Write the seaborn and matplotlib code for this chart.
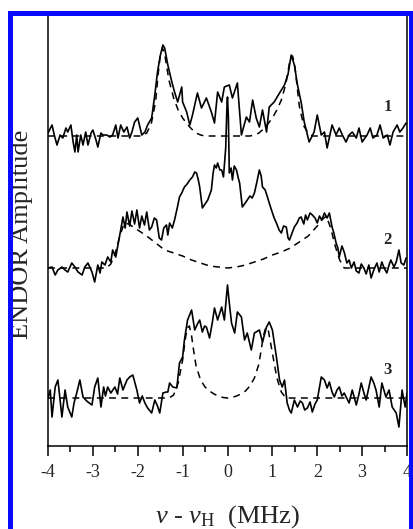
import numpy as np
import pandas as pd
import matplotlib
matplotlib.use("Agg")
import matplotlib.pyplot as plt
from matplotlib.patches import Rectangle
import seaborn as sns

# ---------------- data (x in MHz, amplitude in arbitrary units) ----------------
offset1, offset2, offset3 = 310, 178, 48

x1 = [-4.0,-3.91,-3.86,-3.8,-3.73,-3.67,-3.6,-3.56,-3.49,-3.44,-3.4,-3.36,-3.33,-3.27,-3.22,-3.16,-3.11,-3.04,-3.0,-2.93,
      -2.89,-2.82,-2.78,-2.69,-2.62,-2.56,-2.49,-2.44,-2.38,-2.31,-2.24,-2.18,-2.13,-2.07,-2.0,-1.91,-1.84,-1.78,-1.69,-1.62,
      -1.56,-1.5,-1.44,-1.4,-1.33,-1.24,-1.18,-1.11,-1.02,-1.0,-0.91,-0.84,-0.78,-0.67,-0.58,-0.47,-0.36,-0.29,-0.22,-0.13,
      -0.07,0.04,0.11,0.22,0.31,0.42,0.49,0.56,0.64,0.71,0.78,0.87,0.93,1.04,1.16,1.27,1.35,1.42,1.49,1.56,
      1.64,1.71,1.82,1.93,2.0,2.09,2.16,2.22,2.33,2.42,2.49,2.56,2.64,2.71,2.78,2.87,2.93,3.0,3.11,3.18,
      3.24,3.33,3.4,3.47,3.56,3.62,3.69,3.78,3.84,3.91,3.98]
y1 = [3,11,1,-9,1,-2,8,4,11,-6,-16,1,-16,1,-9,4,-9,3,6,-4,
      -11,3,1,1,-1,1,11,-2,11,4,9,-2,4,14,18,1,4,11,18,41,
      64,80,91,88,71,54,44,34,49,34,24,11,21,43,28,38,24,13,44,34,
      49,51,38,53,1,19,14,36,18,9,26,4,29,34,43,51,62,81,71,51,
      34,14,-6,4,21,1,4,-12,11,1,8,1,-6,1,4,-2,8,-6,1,8,
      -2,1,11,-2,1,-9,4,11,4,8,13]

x2 = [-4.0,-3.91,-3.84,-3.78,-3.69,-3.62,-3.56,-3.47,-3.4,-3.33,-3.24,-3.18,-3.11,-3.02,-2.96,-2.89,-2.84,-2.8,-2.73,-2.67,
      -2.6,-2.56,-2.49,-2.44,-2.38,-2.33,-2.28,-2.24,-2.18,-2.13,-2.07,-2.02,-1.96,-1.91,-1.85,-1.8,-1.74,-1.69,-1.63,-1.58,
      -1.52,-1.47,-1.42,-1.36,-1.33,-1.29,-1.23,-1.18,-1.12,-1.07,-1.02,-0.96,-0.9,-0.84,-0.78,-0.73,-0.69,-0.65,-0.62,-0.56,
      -0.5,-0.44,-0.4,-0.36,-0.32,-0.29,-0.25,-0.22,-0.17,-0.13,-0.09,-0.04,-0.01,0.0,0.02,0.04,0.08,0.11,0.15,0.2,
      0.24,0.27,0.33,0.38,0.44,0.5,0.55,0.6,0.65,0.71,0.75,0.78,0.84,0.89,0.93,0.98,1.04,1.09,1.15,1.2,
      1.25,1.31,1.35,1.38,1.44,1.49,1.55,1.6,1.64,1.7,1.74,1.78,1.84,1.89,1.95,2.0,2.05,2.1,2.16,2.22,
      2.27,2.33,2.37,2.42,2.46,2.49,2.55,2.6,2.66,2.71,2.76,2.82,2.87,2.93,2.98,3.04,3.09,3.15,3.2,3.26,
      3.33,3.38,3.44,3.49,3.55,3.6,3.64,3.71,3.76,3.82,3.87,3.93,3.98]
y2 = [0,1,-7,-2,1,-2,-4,5,1,-4,-7,1,5,-4,-14,3,-5,6,3,11,
      6,18,11,23,38,51,40,56,42,57,44,58,40,52,43,56,38,41,50,48,
      30,28,40,43,33,45,40,48,60,71,75,81,84,88,91,96,95,88,81,60,
      64,68,73,78,95,103,100,105,98,98,91,120,165,171,150,95,100,88,102,98,
      90,85,61,64,68,72,70,75,85,98,92,81,78,71,65,58,50,45,38,35,
      42,41,30,28,35,41,45,50,51,44,53,48,55,53,50,45,52,48,55,50,
      55,41,35,25,20,11,22,16,5,8,0,6,-3,-5,4,0,-6,3,-10,-2,
      5,-4,6,0,-5,3,8,1,6,18,5,3,10]

x3 = [-4.0,-3.95,-3.91,-3.84,-3.78,-3.74,-3.69,-3.62,-3.56,-3.47,-3.42,-3.36,-3.29,-3.22,-3.16,-3.11,-3.02,-2.96,-2.89,-2.82,
      -2.76,-2.72,-2.67,-2.6,-2.51,-2.45,-2.4,-2.33,-2.24,-2.18,-2.11,-2.02,-1.96,-1.9,-1.84,-1.78,-1.69,-1.62,-1.56,-1.51,
      -1.44,-1.36,-1.33,-1.29,-1.22,-1.13,-1.07,-1.0,-0.96,-0.89,-0.8,-0.73,-0.67,-0.62,-0.56,-0.51,-0.47,-0.4,-0.34,-0.29,
      -0.22,-0.13,-0.07,0.0,0.04,0.09,0.16,0.22,0.31,0.38,0.44,0.53,0.6,0.71,0.78,0.87,0.93,1.0,1.09,1.16,
      1.22,1.27,1.33,1.38,1.42,1.49,1.56,1.62,1.67,1.72,1.78,1.84,1.89,1.95,2.0,2.09,2.16,2.22,2.27,2.33,
      2.38,2.44,2.49,2.55,2.6,2.71,2.78,2.87,2.93,2.98,3.04,3.09,3.2,3.26,3.31,3.38,3.44,3.53,3.6,3.67,
      3.76,3.82,3.89,3.93,3.96,4.0]
y3 = [0,8,-19,11,18,2,-19,8,-9,-19,-5,5,18,1,-2,-4,-7,11,20,-9,
      11,2,11,5,11,4,20,8,18,21,23,8,-5,2,-5,-10,-15,-2,-8,-15,
      5,6,6,15,11,10,35,41,58,78,88,68,74,78,66,72,71,60,75,90,
      78,91,78,113,95,75,65,86,81,58,65,48,65,68,56,71,76,68,41,18,
      11,18,-5,-12,-15,-2,-9,-3,-5,-12,-10,-4,-14,-6,-2,21,18,10,16,6,
      1,8,11,2,5,-5,8,-7,4,15,5,-2,21,15,8,-9,15,1,8,-9,
      -15,-29,8,-2,-9,5]

# simulated (dashed) spectra
xs1 = [-4,-1.9,-1.8,-1.7,-1.6,-1.55,-1.5,-1.45,-1.4,-1.35,-1.3,-1.2,-1.1,-1.0,-0.9,-0.8,-0.7,-0.6,-0.5,0,
       0.5,0.6,0.7,0.8,0.9,1.0,1.1,1.2,1.3,1.35,1.4,1.45,1.5,1.55,1.6,1.7,1.8,1.9,4]
ys1 = [0,0,3,12,35,60,80,88,82,68,55,38,26,18,12,7,3,1,0,0,
       0,1,3,7,12,18,26,36,52,65,78,80,70,50,30,10,3,0,0]
xs2 = [-4,-2.7,-2.6,-2.5,-2.4,-2.3,-2.2,-2.0,-1.8,-1.6,-1.4,-1.2,-1.0,-0.8,-0.6,-0.4,-0.2,0,
       0.2,0.4,0.6,0.8,1.0,1.2,1.4,1.6,1.8,2.0,2.1,2.2,2.3,2.4,2.5,2.6,4]
ys2 = [0,0,4,15,32,45,44,38,32,25,18,15,12,8,5,2,1,0,
       1,3,6,9,13,16,20,26,32,42,48,52,40,22,8,0,0]
xs3 = [-4,-1.3,-1.2,-1.1,-1.0,-0.95,-0.9,-0.85,-0.8,-0.75,-0.7,-0.6,-0.5,-0.4,-0.3,-0.2,-0.1,0,
       0.1,0.2,0.3,0.4,0.5,0.6,0.7,0.75,0.8,0.85,0.9,1.0,1.1,1.2,1.3,4]
ys3 = [0,0,3,15,38,56,70,72,62,46,32,18,11,7,4,2,0.5,0,
       0.5,2,4,7,12,20,34,48,62,70,70,45,20,6,0,0]

trace_labels = ["1", "2", "3"]
xticks = [-4, -3, -2, -1, 0, 1, 2, 3, 4]

# ---------------- style ----------------
sns.set_style("ticks")
plt.rcParams["font.family"] = ["Liberation Serif", "DejaVu Serif"]
plt.rcParams["mathtext.fontset"] = "custom"
plt.rcParams["mathtext.rm"] = "Liberation Serif"
plt.rcParams["mathtext.it"] = "Liberation Serif:italic"
plt.rcParams["axes.unicode_minus"] = False

W, H = 413, 529
fig = plt.figure(figsize=(W / 100, H / 100), dpi=100)
ax = fig.add_axes([48 / W, 1 - 446 / H, (407 - 48) / W, (446 - 15) / H])

exp = [(x1, y1, offset1), (x2, y2, offset2), (x3, y3, offset3)]
sim = [(xs1, ys1, offset1), (xs2, ys2, offset2), (xs3, ys3, offset3)]

for xs, ys, off in sim:
    df = pd.DataFrame({"x": xs, "y": np.asarray(ys, float) + off})
    sns.lineplot(data=df, x="x", y="y", ax=ax, color="black", lw=1.1,
                 linestyle=(0, (4.5, 3.5)), sort=False, estimator=None)
for xs, ys, off in exp:
    df = pd.DataFrame({"x": xs, "y": np.asarray(ys, float) + off})
    sns.lineplot(data=df, x="x", y="y", ax=ax, color="black", lw=1.2,
                 sort=False, estimator=None)

label_y = [339, 206, 76]
for lab, ly in zip(trace_labels, label_y):
    ax.text(3.57, ly, lab, fontsize=12, fontweight="bold", ha="center", va="center")

ax.set_xlim(-4, 4)
ax.set_ylim(0, 431)
ax.set_xticks(xticks)
ax.set_xticklabels([str(t) for t in xticks], fontsize=13)
ax.set_xticks(np.arange(-3.5, 4, 1.0), minor=True)
ax.set_yticks([])
ax.tick_params(axis="x", which="major", direction="out", length=7, width=1.1, pad=6, color="black")
ax.tick_params(axis="x", which="minor", direction="out", length=4, width=1.1, color="black")
for s in ["left", "right", "bottom"]:
    ax.spines[s].set_visible(True)
    ax.spines[s].set_linewidth(1.1)
    ax.spines[s].set_color("black")
ax.spines["top"].set_visible(False)

ax.set_xlabel(r"$\nu$ - $\nu_{\mathrm{H}}$  (MHz)", fontsize=19, va="top")
ax.xaxis.set_label_coords(0.5, -0.132)
ax.set_ylabel("ENDOR Amplitude", fontsize=19, va="center")
ax.yaxis.set_label_coords(-0.072, 0.49)

# blue frame around the figure
lw_px = 5
border = Rectangle((9.5 / W, -0.05), (410.5 - 9.5) / W, (H - 12.5) / H + 0.05,
                   transform=fig.transFigure, fill=False, edgecolor="#0a0aff",
                   linewidth=lw_px * 72 / 100, clip_on=False)
fig.patches.append(border)

fig.savefig("out.png", dpi=100)
